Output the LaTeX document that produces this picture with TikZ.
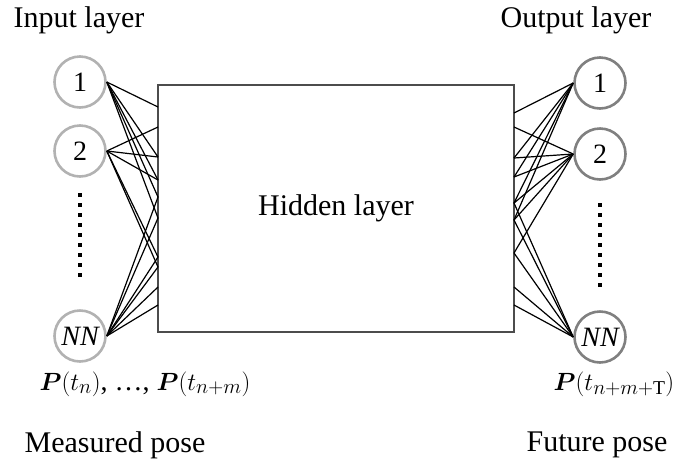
\documentclass[tikz,border=0pt]{standalone}
\usepackage{amsmath}
\usepackage{fontspec}
\setmainfont{Liberation Serif}
\begin{document}
\begin{tikzpicture}[x=1pt,y=-1pt,
  txt/.style={font=\fontsize{30}{35}\selectfont, inner sep=0pt},
  mtxt/.style={font=\fontsize{28}{33}\selectfont, inner sep=0pt},
  incirc/.style={circle, draw=black!30, line width=2.6pt, minimum size=51pt, inner sep=0pt, font=\fontsize{28}{33}\selectfont},
  outcirc/.style={circle, draw=black!50, line width=2.6pt, minimum size=51pt, inner sep=0pt, font=\fontsize{28}{33}\selectfont},
  hidbox/.style={draw=black!70, line width=1.1pt, minimum width=356pt, minimum height=247pt, inner sep=0pt, font=\fontsize{30}{35}\selectfont},
  link/.style={draw=black, line width=1.2pt},
  dots/.style={draw=black, line width=4.2pt, dash pattern=on 4.2pt off 5.8pt}
]
\useasboundingbox (0,0) rectangle (678,475);

% text labels
\node[txt] (inlab) at (79,20) {Input layer};
\node[txt] (outlab) at (576,20) {Output layer};

% hidden layer
\node[hidbox] (hid) at (336,208.5) {Hidden layer};

% input nodes
\node[incirc] (i1) at (80,82) {1};
\node[incirc] (i2) at (80,151) {2};
\node[incirc] (iN) at (80,336) {\itshape NN};

% output nodes
\node[outcirc] (o1) at (600,83) {1};
\node[outcirc] (o2) at (600,154) {2};
\node[outcirc] (oN) at (600,337) {\itshape NN};

% dotted ellipses
\coordinate (ld1) at (80,193);
\coordinate (ld2) at (80,277.2);
\coordinate (rd1) at (600,203);
\coordinate (rd2) at (600,287.2);
\draw[dots] (ld1) -- (ld2);
\draw[dots] (rd1) -- (rd2);

% box endpoints, left side
\foreach \n/\y in {1/107,2/127,3/157,4/180,5/197,6/218,7/257,8/267,9/287,10/305}
  \coordinate (a\n) at (158,\y);
% box endpoints, right side
\foreach \n/\y in {1/113,2/127,3/158,4/177,5/203,6/220,7/253,8/287,9/305}
  \coordinate (b\n) at (514,\y);

% input connections
\foreach \k in {1,3,4,5,6} \draw[link] (i1.east) -- (a\k);
\foreach \k in {2,3,4,7,8} \draw[link] (i2.east) -- (a\k);
\foreach \k in {5,6,7,8,9,10} \draw[link] (iN.east) -- (a\k);

% output connections
\foreach \k in {1,3,4,5,6} \draw[link] (b\k) -- (o1.west);
\foreach \k in {2,3,4,5,6,7} \draw[link] (b\k) -- (o2.west);
\foreach \k in {5,6,7,8,9} \draw[link] (b\k) -- (oN.west);

% bottom labels
\node[mtxt] (pin) at (145,384) {$\boldsymbol{P}(t_n)$, \ldots, $\boldsymbol{P}(t_{n+m})$};
\node[mtxt] (pout) at (614,384) {$\boldsymbol{P}(t_{n+m+\mathrm{T}})$};
\node[txt] (meas) at (115,445) {Measured pose};
\node[txt] (fut) at (597,445) {Future pose};
\end{tikzpicture}
\end{document}
